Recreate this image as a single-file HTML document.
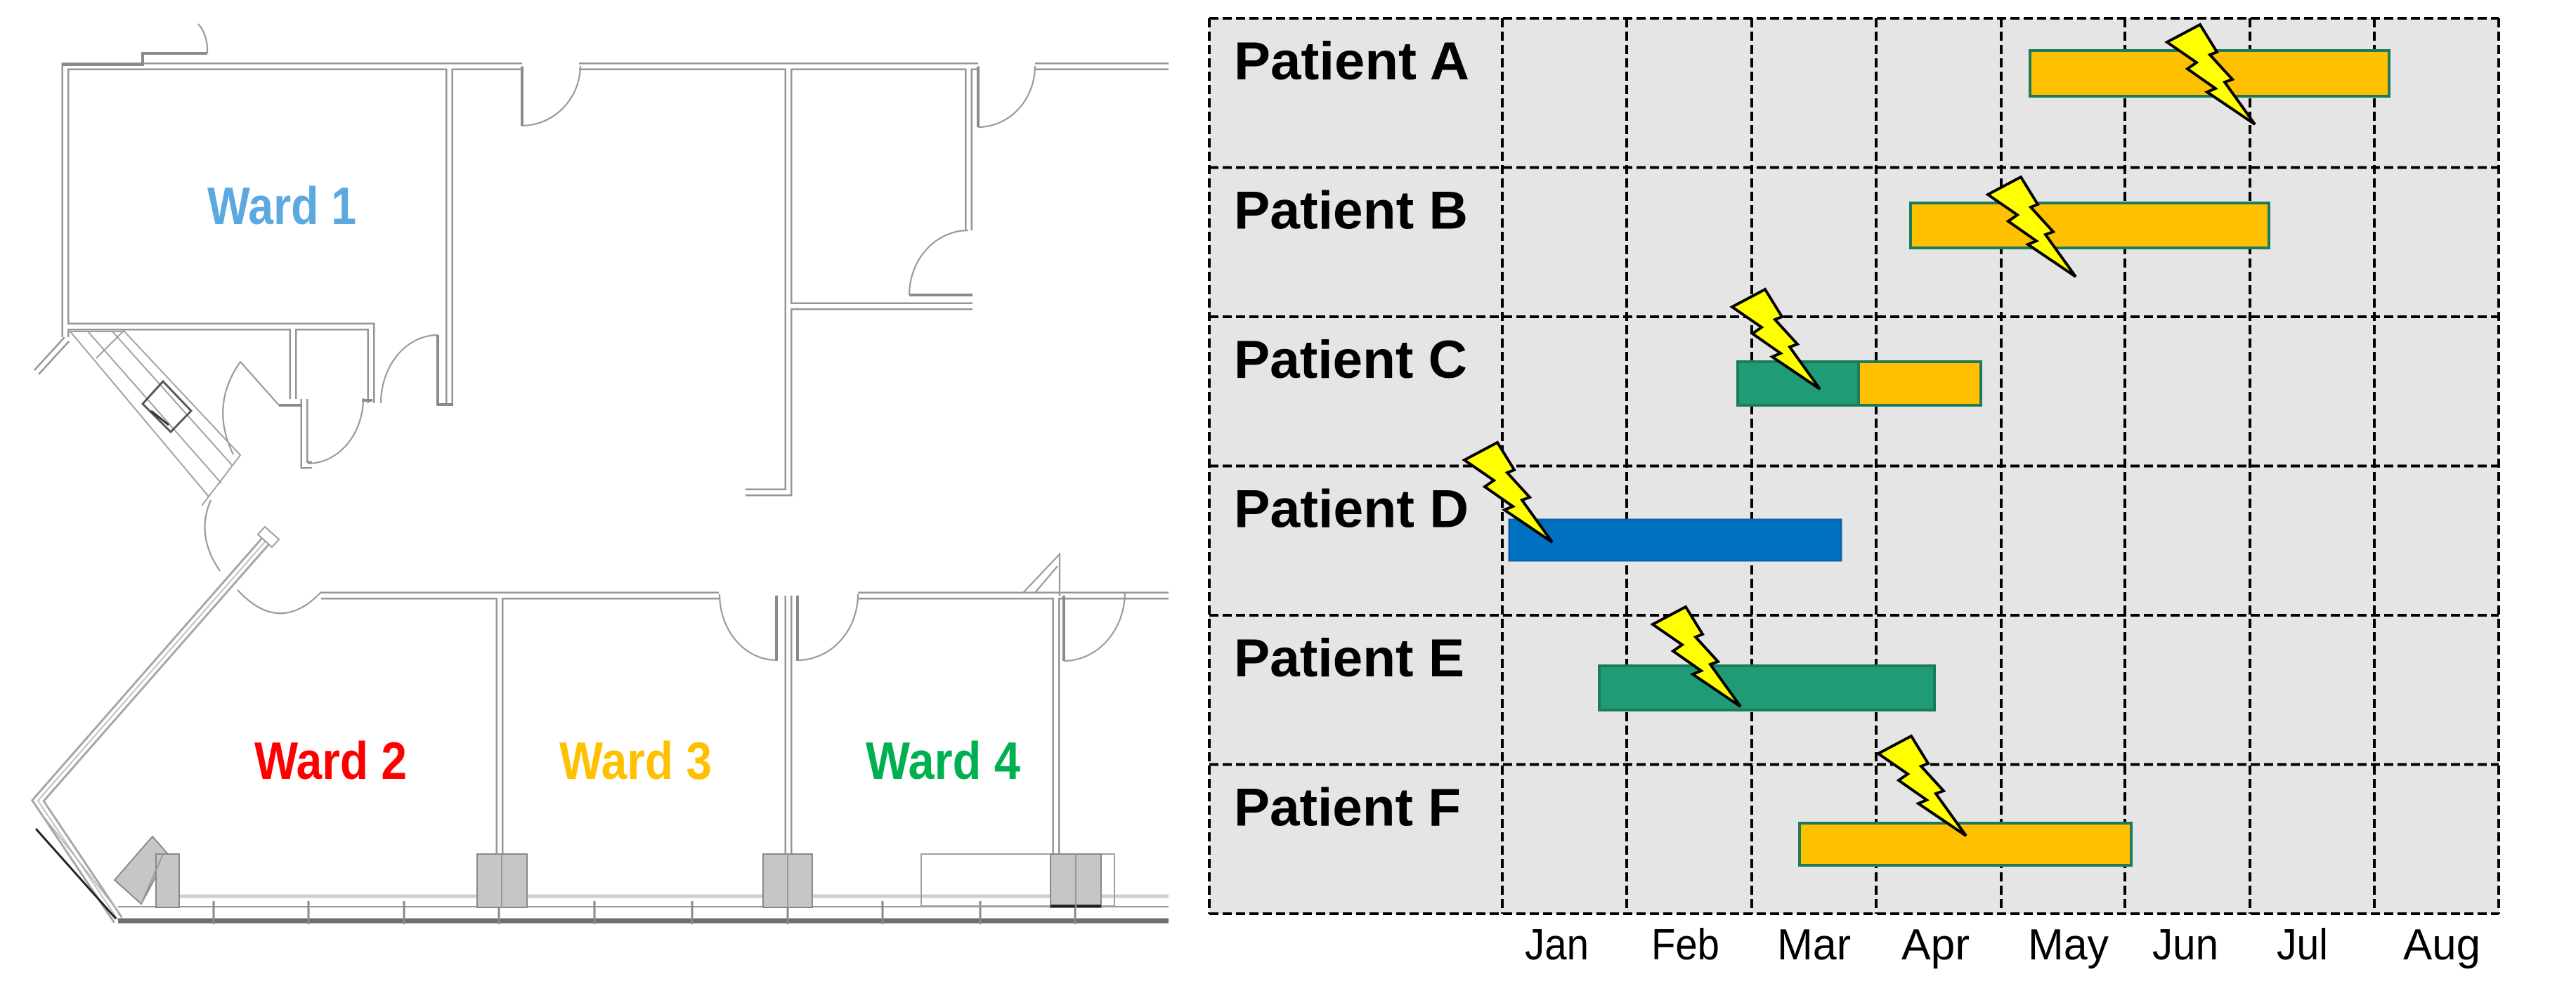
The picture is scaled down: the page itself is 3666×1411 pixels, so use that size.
<!DOCTYPE html>
<html>
<head>
<meta charset="utf-8">
<style>
  html, body { margin:0; padding:0; background:#ffffff; }
  body { width:3666px; height:1411px; overflow:hidden; }
  svg { display:block; }
  .lbl { font-family:"Liberation Sans", Arial, sans-serif; font-weight:bold; }
  .mon { font-family:"Liberation Sans", Arial, sans-serif; font-weight:normal; }
</style>
</head>
<body>
<svg width="3666" height="1411" viewBox="0 0 3666 1411" xmlns="http://www.w3.org/2000/svg">
  <rect x="0" y="0" width="3666" height="1411" fill="#ffffff"/>

  <!-- ================= FLOOR PLAN ================= -->
  <g fill="none" stroke="#959595" stroke-width="11" stroke-linejoin="miter" stroke-linecap="butt">
    <path d="M93 480 V94.5 H743"/>
    <path d="M639.5 94.5 V574"/>
    <path d="M93 465 H528 V574"/>
    <path d="M417 468 V568"/>
    <path d="M433 568 V662 H444"/>
    <path d="M824 94.5 H1392"/>
    <path d="M1378.5 94.5 V328"/>
    <path d="M1473 94.5 H1663"/>
    <path d="M1122 94.5 V701 H1061"/>
    <path d="M1122 436 H1384"/>
    <path d="M457 848 H1023"/>
    <path d="M1221 848 H1663"/>
    <path d="M711 848 V1219"/>
    <path d="M1122 848 V1219"/>
    <path d="M1503 848 V1219"/>
    <path d="M95 483 L52 530"/>
  </g>
  <g fill="none" stroke="#a5a5a5" stroke-width="16" stroke-linejoin="miter">
    <path d="M387 760 L54 1140 L168 1310"/>
  </g>
  <g fill="none" stroke="#ffffff" stroke-width="6" stroke-linejoin="miter" stroke-linecap="butt">
    <path d="M93 480 V94.5 H743"/>
    <path d="M639.5 94.5 V574"/>
    <path d="M93 465 H528 V574"/>
    <path d="M417 468 V568"/>
    <path d="M433 568 V662 H444"/>
    <path d="M824 94.5 H1392"/>
    <path d="M1378.5 94.5 V328"/>
    <path d="M1473 94.5 H1663"/>
    <path d="M1122 94.5 V701 H1061"/>
    <path d="M1122 436 H1384"/>
    <path d="M457 848 H1023"/>
    <path d="M1221 848 H1663"/>
    <path d="M711 848 V1219"/>
    <path d="M1122 848 V1219"/>
    <path d="M1503 848 V1219"/>
    <path d="M95 483 L52 530"/>
  </g>
  <g fill="none" stroke="#ffffff" stroke-width="10" stroke-linejoin="miter">
    <path d="M387 760 L54 1140 L168 1310"/>
  </g>
  <g fill="none" stroke="#c0c0c0" stroke-width="2">
    <path d="M387 760 L54 1140 L168 1310"/>
  </g>
  <polygon points="377,750 397,768 387,779 367,761" fill="#ffffff" stroke="#9a9a9a" stroke-width="2"/>

  <g fill="none" stroke="#8a8a8a" stroke-width="4">
    <path d="M743 94.5 V179"/>
    <path d="M1392 94.5 V181"/>
    <path d="M1105 848 V941"/>
    <path d="M1135 848 V941"/>
    <path d="M1514 848 V941"/>
    <path d="M1294 420 H1384"/>
    <path d="M397 577 H430"/>
    <path d="M515 570 H530"/>
    <path d="M623 477 V576 H645"/>
    <path d="M89 92 H203 V76 H295"/>
  </g>

  <g fill="none" stroke="#9a9a9a" stroke-width="2.2">
    <path d="M742 179 A84 86 0 0 0 826 94"/>
    <path d="M1392 181 A81 87 0 0 0 1473 94"/>
    <path d="M542 574 A81 97 0 0 1 623 477"/>
    <path d="M438 660 A79 93 0 0 0 517 567"/>
    <path d="M342 515 L397 577"/>
    <path d="M342 515 Q298 578 332 647"/>
    <path d="M300 712 Q278 762 313 813"/>
    <path d="M457 843 Q398 905 338 840"/>
    <path d="M1024 846 A81 94 0 0 0 1105 940"/>
    <path d="M1135 940 A86 94 0 0 0 1221 846"/>
    <path d="M1514 941 A87 98 0 0 0 1601 843"/>
    <path d="M1378 328 A84 92 0 0 0 1294 420"/>
    <path d="M295 76 Q296 50 282 34"/>
    <path d="M1455 845 L1508 789 L1508 849"/>
    <path d="M1472 845 L1505 806"/>
  </g>

  <g fill="none" stroke="#a0a0a0" stroke-width="2">
    <polygon points="100,472 177,472 342,648 297,707"/>
    <path d="M125 472 L315 688"/>
    <path d="M160 472 L330 662"/>
    <path d="M137 510 L177 470"/>
    <path d="M297 707 L287 720"/>
  </g>
  <polygon points="232,543 272,585 243,615 203,575" fill="none" stroke="#555555" stroke-width="3"/>
  <path d="M215 585 L240 605" stroke="#333" stroke-width="3" fill="none"/>

  <path d="M255 1276 H1663" stroke="#cfcfcf" stroke-width="5" fill="none"/>
  <path d="M168 1291 H1663" stroke="#9a9a9a" stroke-width="2" fill="none"/>
  <path d="M168 1311 H1663" stroke="#6e6e6e" stroke-width="7" fill="none"/>
  <path d="M51 1180 L165 1308" stroke="#222222" stroke-width="3" fill="none"/>
  <path d="M60 1160 L170 1300" stroke="#b5b5b5" stroke-width="2" fill="none"/>
  <g stroke="#8a8a8a" stroke-width="3">
    <path d="M304 1283 V1316"/><path d="M439 1283 V1316"/><path d="M575 1283 V1316"/>
    <path d="M710 1283 V1316"/><path d="M846 1283 V1316"/><path d="M985 1283 V1316"/>
    <path d="M1121 1283 V1316"/><path d="M1256 1283 V1316"/><path d="M1395 1283 V1316"/>
    <path d="M1530 1283 V1316"/>
  </g>
  <rect x="1311" y="1216" width="275" height="74" fill="none" stroke="#a0a0a0" stroke-width="2"/>
  <g fill="#c6c6c6" stroke="#888888" stroke-width="2">
    <polygon points="163,1253 217,1191 239,1216 201,1287"/>
    <rect x="222" y="1216" width="33" height="76"/>
    <rect x="679" y="1216" width="71" height="76"/>
    <rect x="1086" y="1216" width="70" height="76"/>
    <rect x="1495" y="1216" width="72" height="76"/>
  </g>
  <path d="M1495 1290 H1567" stroke="#222" stroke-width="4"/>
  <g stroke="#999" stroke-width="2">
    <path d="M714 1216 V1292"/><path d="M1121 1216 V1292"/><path d="M1531 1216 V1292"/>
    <path d="M201 1287 L232 1216"/>
  </g>

  <text class="lbl" x="295" y="319" font-size="75" fill="#5BA9E0" textLength="212" lengthAdjust="spacingAndGlyphs">Ward 1</text>
  <text class="lbl" x="362" y="1109" font-size="75" fill="#FF0000" textLength="217" lengthAdjust="spacingAndGlyphs">Ward 2</text>
  <text class="lbl" x="796" y="1109" font-size="75" fill="#FFC000" textLength="217" lengthAdjust="spacingAndGlyphs">Ward 3</text>
  <text class="lbl" x="1232" y="1109" font-size="75" fill="#00B050" textLength="220" lengthAdjust="spacingAndGlyphs">Ward 4</text>

  <!-- ================= GANTT CHART ================= -->
  <rect x="1721" y="26" width="1835" height="1275" fill="#E5E5E5"/>
  <g stroke="#000000" stroke-width="4" stroke-dasharray="13 6" fill="none">
    <path d="M1721 26 H3556"/>
    <path d="M1721 238.5 H3556"/>
    <path d="M1721 451 H3556"/>
    <path d="M1721 663.5 H3556"/>
    <path d="M1721 876 H3556"/>
    <path d="M1721 1088.5 H3556"/>
    <path d="M1721 1301 H3556"/>
    <path d="M1721 26 V1301"/>
    <path d="M2138 26 V1301"/>
    <path d="M2315 26 V1301"/>
    <path d="M2493 26 V1301"/>
    <path d="M2670 26 V1301"/>
    <path d="M2848 26 V1301"/>
    <path d="M3024 26 V1301"/>
    <path d="M3202 26 V1301"/>
    <path d="M3379 26 V1301"/>
    <path d="M3556 26 V1301"/>
  </g>

  <g stroke="#1E7A5C" stroke-width="4">
    <rect x="2889" y="72" width="511" height="65" fill="#FFC000"/>
    <rect x="2719" y="289" width="510" height="64" fill="#FFC000"/>
    <rect x="2473" y="515" width="172" height="62" fill="#1F9B77"/>
    <rect x="2645" y="515" width="174" height="62" fill="#FFC000"/>
    <rect x="2276" y="948" width="477" height="63" fill="#1F9B77"/>
    <rect x="2561" y="1172" width="472" height="60" fill="#FFC000"/>
  </g>
  <rect x="2148" y="740" width="472" height="58" fill="#0070C0" stroke="#0A64AA" stroke-width="3"/>

  <defs>
    <polygon id="bolt" points="0,0 24,39 14,43 46,78 35,82 78,142 10,96 22,91 -18,63 -5,54 -47,25"
      fill="#FFFF00" stroke="#000000" stroke-width="4" stroke-linejoin="miter"/>
  </defs>
  <use href="#bolt" x="3131" y="35"/>
  <use href="#bolt" x="2876" y="252"/>
  <use href="#bolt" x="2512" y="412"/>
  <use href="#bolt" x="2131" y="630"/>
  <use href="#bolt" x="2399" y="864"/>
  <use href="#bolt" x="2720" y="1048"/>

  <text class="lbl" x="1756" y="113" font-size="76" fill="#000" textLength="335" lengthAdjust="spacingAndGlyphs">Patient A</text>
  <text class="lbl" x="1756" y="325.5" font-size="76" fill="#000" textLength="333" lengthAdjust="spacingAndGlyphs">Patient B</text>
  <text class="lbl" x="1756" y="538" font-size="76" fill="#000" textLength="332" lengthAdjust="spacingAndGlyphs">Patient C</text>
  <text class="lbl" x="1756" y="750.5" font-size="76" fill="#000" textLength="334" lengthAdjust="spacingAndGlyphs">Patient D</text>
  <text class="lbl" x="1756" y="963" font-size="76" fill="#000" textLength="328" lengthAdjust="spacingAndGlyphs">Patient E</text>
  <text class="lbl" x="1756" y="1175.5" font-size="76" fill="#000" textLength="323" lengthAdjust="spacingAndGlyphs">Patient F</text>

  <g class="mon" font-size="62" fill="#000">
    <text x="2170" y="1366" textLength="91" lengthAdjust="spacingAndGlyphs">Jan</text>
    <text x="2350" y="1366" textLength="97" lengthAdjust="spacingAndGlyphs">Feb</text>
    <text x="2529" y="1366" textLength="105" lengthAdjust="spacingAndGlyphs">Mar</text>
    <text x="2706" y="1366" textLength="97" lengthAdjust="spacingAndGlyphs">Apr</text>
    <text x="2886" y="1366" textLength="115" lengthAdjust="spacingAndGlyphs">May</text>
    <text x="3063" y="1366" textLength="94" lengthAdjust="spacingAndGlyphs">Jun</text>
    <text x="3240" y="1366" textLength="73" lengthAdjust="spacingAndGlyphs">Jul</text>
    <text x="3420" y="1366" textLength="110" lengthAdjust="spacingAndGlyphs">Aug</text>
  </g>
</svg>
</body>
</html>
